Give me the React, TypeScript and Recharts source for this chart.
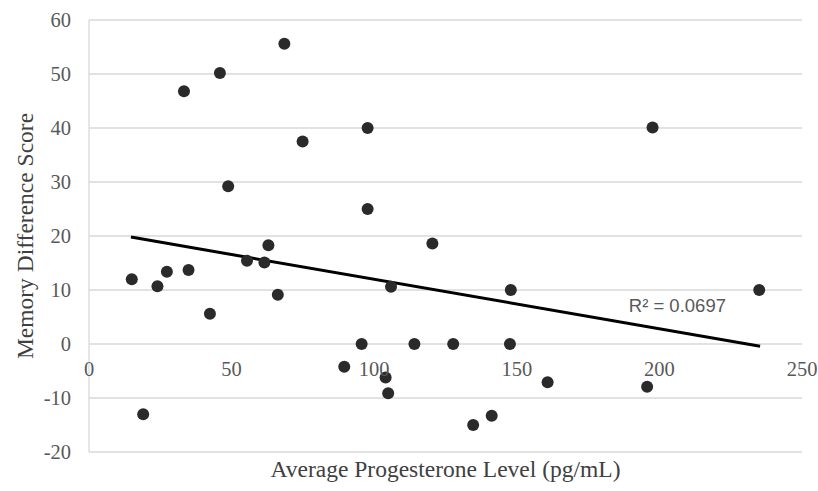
import React from 'react';
import {
  ScatterChart,
  Scatter,
  XAxis,
  YAxis,
  CartesianGrid,
  ReferenceLine,
  ReferenceDot,
} from 'recharts';

// progesterone (pg/mL) vs memory difference score
const progesterone = [
  15.0, 19.0, 24.0, 27.3, 33.3, 34.9, 42.4, 45.9, 48.8, 55.4, 61.5, 62.9, 66.2, 68.5, 74.9,
  89.5, 95.6, 97.7, 97.7, 104.0, 104.9, 105.9, 114.1, 120.4, 127.7, 134.7, 141.2, 147.9,
  147.6, 160.8, 195.7, 197.6, 235.0,
];
const memoryDiff = [
  12.0, -13.0, 10.7, 13.4, 46.8, 13.7, 5.6, 50.2, 29.2, 15.4, 15.1, 18.3, 9.1, 55.6, 37.5,
  -4.2, 0, 40.0, 25.0, -6.2, -9.1, 10.6, 0, 18.6, 0, -15.0, -13.3, 10.0, 0, -7.1, -7.9,
  40.1, 10.0,
];

// linear trendline endpoints (x, y)
const trendX = [14.7, 235.3];
const trendY = [19.8, -0.4];
const rSquared = 'R² = 0.0697';
const rLabelAt = [206.3, 6.0];

const xTicks = [0, 50, 100, 150, 200, 250];
const yTicks = [-20, -10, 0, 10, 20, 30, 40, 50, 60];

const points = progesterone.map((x, i) => ({ x, y: memoryDiff[i] }));

const W = 818;
const H = 491;
const MARGIN = { top: 20, right: 16, bottom: 0, left: 0 };
const Y_AXIS_W = 89;
const X_AXIS_H = 39;
const PLOT_H = H - MARGIN.top - X_AXIS_H;
const Y_MIN = yTicks[0];
const Y_MAX = yTicks[yTicks.length - 1];
// x tick labels sit under the zero gridline, not at the bottom of the plot
const ZERO_SHIFT = (PLOT_H * (0 - Y_MIN)) / (Y_MAX - Y_MIN);

const SERIF = '"Liberation Serif", "Times New Roman", serif';
const TICK_COLOR = '#595959';

function XTick({ x, y, payload }: any) {
  return (
    <text
      x={x}
      y={y - ZERO_SHIFT}
      dy={24}
      textAnchor="middle"
      fill={TICK_COLOR}
      fontSize={20.5}
      fontFamily={SERIF}
    >
      {payload.value}
    </text>
  );
}

function XTitle({ viewBox }: any) {
  const cx = viewBox.x + viewBox.width / 2;
  return (
    <text x={cx} y={477} textAnchor="middle" fill="#404040" fontSize={23.5} fontFamily={SERIF}>
      Average Progesterone Level (pg/mL)
    </text>
  );
}

function YTitle({ viewBox }: any) {
  const cx = 33;
  const cy = viewBox.y + viewBox.height / 2;
  return (
    <text
      x={cx}
      y={cy}
      transform={`rotate(-90 ${cx} ${cy})`}
      textAnchor="middle"
      fill="#404040"
      fontSize={23.5}
      fontFamily={SERIF}
    >
      Memory Difference Score
    </text>
  );
}

export default function App() {
  return (
    <div style={{ position: 'absolute', left: 0, top: 0, width: W, height: H, background: '#fff' }}>
      <ScatterChart width={W} height={H} margin={MARGIN}>
        <CartesianGrid vertical={false} stroke="#d9d9d9" strokeWidth={1.3} />
        <XAxis
          type="number"
          dataKey="x"
          domain={[0, 250]}
          ticks={xTicks}
          height={X_AXIS_H}
          axisLine={false}
          tickLine={false}
          tick={<XTick />}
          interval={0}
          label={<XTitle />}
        />
        <YAxis
          type="number"
          dataKey="y"
          domain={[Y_MIN, Y_MAX]}
          ticks={yTicks}
          width={Y_AXIS_W}
          axisLine={{ stroke: '#d9d9d9', strokeWidth: 1.3 }}
          tickLine={false}
          tickMargin={12}
          interval={0}
          tick={{ fill: TICK_COLOR, fontSize: 20.5, fontFamily: SERIF }}
          label={<YTitle />}
        />
        <Scatter
          data={points}
          fill="#2a2a2a"
          isAnimationActive={false}
          shape={(p: any) => <circle cx={p.cx} cy={p.cy} r={6} fill="#2a2a2a" />}
        />
        <ReferenceLine
          segment={[
            { x: trendX[0], y: trendY[0] },
            { x: trendX[1], y: trendY[1] },
          ]}
          stroke="#000"
          strokeWidth={3}
        />
        <ReferenceDot
          x={rLabelAt[0]}
          y={rLabelAt[1]}
          r={0}
          shape={(p: any) => (
            <text
              x={p.cx}
              y={p.cy}
              textAnchor="middle"
              fill={TICK_COLOR}
              fontSize={18.5}
              fontFamily='"Liberation Sans", Arial, sans-serif'
            >
              {rSquared}
            </text>
          )}
        />
      </ScatterChart>
    </div>
  );
}
